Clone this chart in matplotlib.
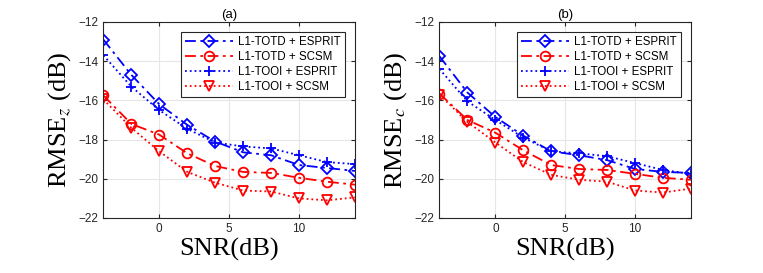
import numpy as np
import matplotlib.pyplot as plt

snr = [-4, -2, 0, 2, 4, 6, 8, 10, 12, 14]

# panel (a): RMSE_z
z_totd_esprit = [-12.9, -14.7, -16.2, -17.25, -18.1, -18.65, -18.8, -19.3, -19.45, -19.6]
z_totd_scsm = [-15.75, -17.2, -17.75, -18.7, -19.35, -19.65, -19.7, -19.95, -20.15, -20.3]
z_tooi_esprit = [-13.7, -15.3, -16.5, -17.45, -18.15, -18.35, -18.45, -18.8, -19.15, -19.25]
z_tooi_scsm = [-15.95, -17.4, -18.6, -19.65, -20.2, -20.6, -20.65, -21.0, -21.1, -20.95]

# panel (b): RMSE_c
c_totd_esprit = [-13.75, -15.6, -16.85, -17.8, -18.6, -18.8, -19.05, -19.5, -19.65, -19.7]
c_totd_scsm = [-15.65, -17.0, -17.65, -18.55, -19.3, -19.5, -19.55, -19.75, -19.95, -20.05]
c_tooi_esprit = [-14.4, -16.05, -17.0, -17.9, -18.6, -18.7, -18.85, -19.2, -19.55, -19.75]
c_tooi_scsm = [-15.7, -17.1, -18.15, -19.15, -19.8, -20.05, -20.15, -20.6, -20.7, -20.5]

labels = ["L1-TOTD + ESPRIT", "L1-TOTD + SCSM", "L1-TOOI + ESPRIT", "L1-TOOI + SCSM"]
styles = [
    dict(color='blue', linestyle=(0, (6, 2.5, 1.5, 2.5)), marker='D', markersize=6),
    dict(color='red', linestyle=(0, (6, 2.5, 1.5, 2.5)), marker='o', markersize=7),
    dict(color='blue', linestyle=':', marker='+', markersize=7),
    dict(color='red', linestyle=':', marker='v', markersize=7),
]

plt.rcParams['font.family'] = ['Liberation Sans', 'DejaVu Sans']
plt.rcParams['mathtext.fontset'] = 'stix'

fig = plt.figure(figsize=(7.63, 2.73), dpi=100)
ax_a = fig.add_axes([0.1355, 0.2015, 0.3297, 0.718])
ax_b = fig.add_axes([0.576, 0.2015, 0.3297, 0.718])

panels = [
    (ax_a, "(a)", r"RMSE$_z$ (dB)", [z_totd_esprit, z_totd_scsm, z_tooi_esprit, z_tooi_scsm]),
    (ax_b, "(b)", r"RMSE$_c$ (dB)", [c_totd_esprit, c_totd_scsm, c_tooi_esprit, c_tooi_scsm]),
]

for ax, title, ylab, series in panels:
    for vals, lab, st in zip(series, labels, styles):
        ax.plot(snr, vals, label=lab, linewidth=1.3, markerfacecolor='none',
                markeredgewidth=1.3, **st)
    ax.set_xlim(-4, 14)
    ax.set_ylim(-22, -12)
    ax.set_xticks([0, 5, 10])
    ax.set_yticks([-22, -20, -18, -16, -14, -12])
    ax.grid(True, color='#e6e6e6', linewidth=0.8)
    ax.set_axisbelow(True)
    ax.tick_params(direction='in', length=3, labelsize=8.5, colors='#262626',
                   top=True, right=True)
    for sp in ax.spines.values():
        sp.set_color('#262626')
        sp.set_linewidth(0.8)
    ax.set_title(title, fontsize=9.5, pad=3)
    ax.set_xlabel("SNR(dB)", family='Liberation Serif', fontsize=19, labelpad=2)
    ax.set_ylabel(ylab, family='Liberation Serif', fontsize=19, labelpad=4)
    leg = ax.legend(loc='upper right', fontsize=8.3, fancybox=False,
                    edgecolor='#262626', framealpha=1, handlelength=4.2,
                    borderaxespad=0.9, labelspacing=0.25, handletextpad=0.4,
                    borderpad=0.35)
    leg.get_frame().set_linewidth(0.8)

fig.savefig("out.png", dpi=100)
